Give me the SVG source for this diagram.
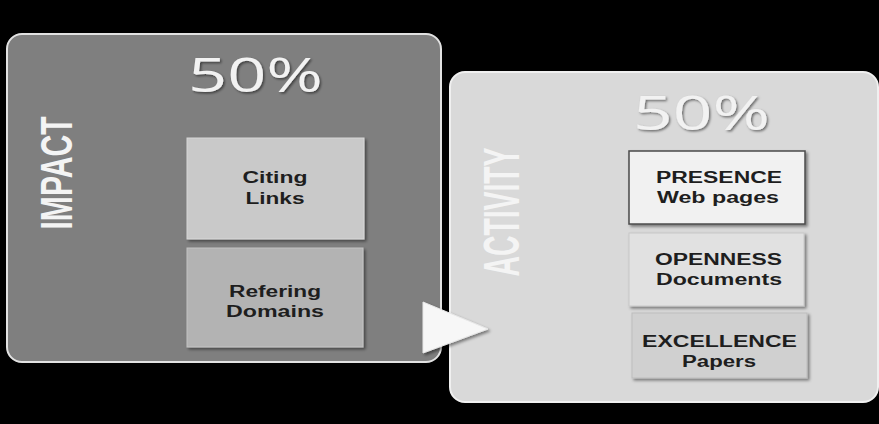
<svg xmlns="http://www.w3.org/2000/svg" width="879" height="424" viewBox="0 0 879 424">
  <defs>
    <filter id="sh" x="-10%" y="-10%" width="130%" height="130%">
      <feDropShadow dx="2" dy="2" stdDeviation="1.5" flood-color="#000" flood-opacity="0.45"/>
    </filter>
    <filter id="tsh" x="-10%" y="-10%" width="130%" height="130%">
      <feDropShadow dx="1.5" dy="1.5" stdDeviation="1" flood-color="#000" flood-opacity="0.5"/>
    </filter>
  </defs>
  <style>
    .pct { font-family: "Open Sans", "Liberation Sans", sans-serif; font-size: 47px; fill: #f2f2f2; text-anchor: middle; }
    .side { font-family: "Liberation Sans", sans-serif; font-weight: bold; fill: #f4f4f4; text-anchor: middle; }
    .lbl { font-family: "Liberation Sans", Arial, sans-serif; font-weight: bold; font-size: 16px; fill: #1e1e1e; text-anchor: middle; }
    .box { filter: url(#sh); }
  </style>
  <rect x="0" y="0" width="879" height="424" fill="#000"/>

  <g id="impact-panel">
    <rect x="7" y="34" width="434" height="328" rx="15" fill="#7f7f7f" stroke="#e2e2e2" stroke-width="2"/>
    <text class="pct" x="255.5" y="92" textLength="135" lengthAdjust="spacingAndGlyphs" filter="url(#tsh)">50%</text>
    <text class="side" transform="translate(56,173) rotate(-90)" x="0" y="16" font-size="44" textLength="113" lengthAdjust="spacingAndGlyphs">IMPACT</text>
  </g>

  <g id="activity-panel">
    <rect x="450" y="72" width="428" height="330" rx="15" fill="#d9d9d9" stroke="#f0f0f0" stroke-width="2"/>
    <text class="pct" x="701.5" y="130" textLength="137" lengthAdjust="spacingAndGlyphs" fill="#f5f5f5" filter="url(#tsh)">50%</text>
    <text class="side" transform="translate(501,212) rotate(-90)" x="0" y="18" font-size="50" textLength="129" lengthAdjust="spacingAndGlyphs">ACTIVITY</text>
  </g>

  <g id="citing-links">
    <rect class="box" x="187" y="138" width="177" height="101" fill="#c9c9c9" stroke="#d8d8d8" stroke-width="1"/>
    <text class="lbl" x="275" y="183" textLength="65" lengthAdjust="spacingAndGlyphs">Citing</text>
    <text class="lbl" x="275" y="204" textLength="59" lengthAdjust="spacingAndGlyphs">Links</text>
  </g>

  <g id="refering-domains">
    <rect class="box" x="187" y="248" width="176" height="99" fill="#b3b3b3" stroke="#c4c4c4" stroke-width="1"/>
    <text class="lbl" x="275" y="297" textLength="92" lengthAdjust="spacingAndGlyphs">Refering</text>
    <text class="lbl" x="275" y="317" textLength="98" lengthAdjust="spacingAndGlyphs">Domains</text>
  </g>

  <g id="presence">
    <rect class="box" x="629" y="151" width="176" height="73" fill="#f1f1f1" stroke="#4a4a4a" stroke-width="1.5"/>
    <text class="lbl" x="719" y="183" textLength="126" lengthAdjust="spacingAndGlyphs">PRESENCE</text>
    <text class="lbl" x="718" y="203" textLength="122" lengthAdjust="spacingAndGlyphs">Web pages</text>
  </g>

  <g id="openness">
    <rect class="box" x="629" y="233" width="175" height="73" fill="#e1e1e1" stroke="#c8c8c8" stroke-width="1"/>
    <text class="lbl" x="718.5" y="265" textLength="127" lengthAdjust="spacingAndGlyphs">OPENNESS</text>
    <text class="lbl" x="719" y="285" textLength="126" lengthAdjust="spacingAndGlyphs">Documents</text>
  </g>

  <g id="excellence">
    <rect class="box" x="632" y="313" width="175" height="65" fill="#d0d0d0" stroke="#bdbdbd" stroke-width="1"/>
    <text class="lbl" x="719.5" y="347" textLength="155" lengthAdjust="spacingAndGlyphs">EXCELLENCE</text>
    <text class="lbl" x="719" y="367" textLength="74" lengthAdjust="spacingAndGlyphs">Papers</text>
  </g>

  <g id="connectors">
    <polygon points="423,302 488,329 423,353" fill="#f7f7f7" stroke="#e8e8e8" stroke-width="1" filter="url(#sh)"/>
  </g>
</svg>
